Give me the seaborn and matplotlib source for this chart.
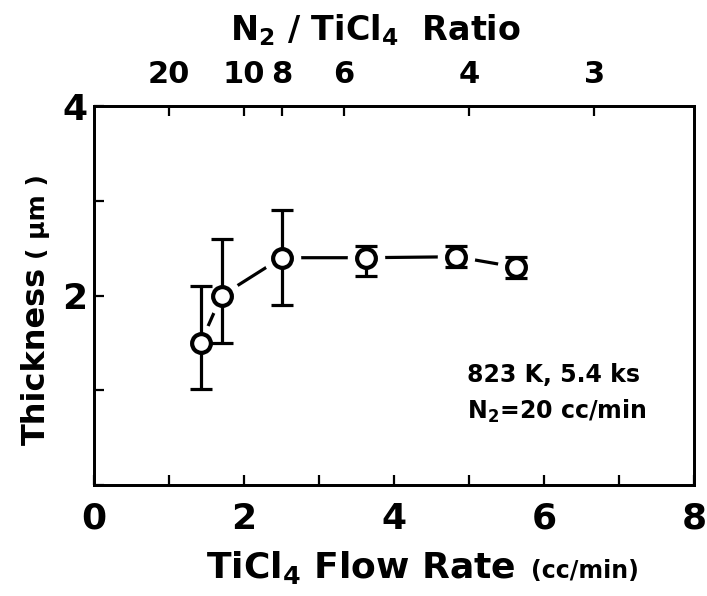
import matplotlib
matplotlib.use("Agg")
import matplotlib.pyplot as plt
import seaborn as sns
import pandas as pd

# ---------------- data ----------------
flow_rate = [1.42, 1.70, 2.50, 3.62, 4.83, 5.63]      # TiCl4 flow rate (cc/min)
thickness = [1.50, 2.00, 2.40, 2.40, 2.41, 2.30]      # thickness (um)
err_low = [0.49, 0.50, 0.50, 0.19, 0.11, 0.11]
err_high = [0.60, 0.60, 0.50, 0.12, 0.11, 0.11]

x_ticks = [0, 1, 2, 3, 4, 5, 6, 7, 8]
x_ticklabels = ["0", "", "2", "", "4", "", "6", "", "8"]
y_ticks = [0, 1, 2, 3, 4]
y_ticklabels = ["", "", "2", "", "4"]
ratios = [20, 10, 8, 6, 4, 3]                          # N2 / TiCl4 ratio
n2_flow = 20                                           # cc/min

df = pd.DataFrame({"flow": flow_rate, "thick": thickness})

# ---------------- style ----------------
sns.set_style("ticks")
plt.rcParams["font.family"] = ["DejaVu Sans"]
plt.rcParams["font.weight"] = "bold"
plt.rcParams["mathtext.default"] = "regular"
plt.rcParams["text.color"] = "black"
plt.rcParams["xtick.color"] = "black"
plt.rcParams["ytick.color"] = "black"
plt.rcParams["axes.labelcolor"] = "black"
plt.rcParams["axes.linewidth"] = 2.0
plt.rcParams["axes.edgecolor"] = "black"

fig = plt.figure(figsize=(7.07, 5.96), dpi=100)
ax = fig.add_axes([0.133, 0.186, 0.849, 0.636])

# connecting line
sns.lineplot(data=df, x="flow", y="thick", sort=False, color="black",
             linewidth=2.3, ax=ax, zorder=2, legend=False)
# white halo around the markers (gaps in the line)
sns.scatterplot(data=df, x="flow", y="thick", s=27 ** 2, color="white",
                linewidth=0, ax=ax, zorder=3, legend=False)
# error bars
ax.errorbar(df["flow"], df["thick"], yerr=[err_low, err_high], fmt="none",
            ecolor="black", elinewidth=2.3, capsize=8, capthick=2.3, zorder=4)
# open circle markers
sns.scatterplot(data=df, x="flow", y="thick", s=13.5 ** 2, facecolor="white",
                edgecolor="black", linewidth=3.0, ax=ax, zorder=5, legend=False)

ax.set_xlim(0, 8)
ax.set_ylim(0, 4)
ax.set_xticks(x_ticks)
ax.set_xticklabels(x_ticklabels)
ax.set_yticks(y_ticks)
ax.set_yticklabels(y_ticklabels)
ax.set_xlabel("")
ax.set_ylabel("")
for s in ax.spines.values():
    s.set_visible(True)
    s.set_linewidth(2.0)
ax.tick_params(axis="both", direction="in", length=7, width=1.6, labelsize=26)
ax.tick_params(axis="x", pad=12)
ax.tick_params(axis="y", pad=5)

# top axis: N2 / TiCl4 ratio
ax2 = ax.twiny()
ax2.set_xlim(ax.get_xlim())
ax2.set_xticks([n2_flow / r for r in ratios])
ax2.set_xticklabels([str(r) for r in ratios])
ax2.tick_params(axis="x", direction="in", length=7, width=1.6, labelsize=22, pad=12)
ax2.set_xlabel(r"N$_{2}$ / TiCl$_{4}$  Ratio", fontsize=24, fontweight="bold")
ax2.xaxis.set_label_coords((375 - 94) / 600, 1.0 + (106 - 40) / 379)

# annotation
ax.text(4.97, 0.96, "823 K, 5.4 ks\n" + r"N$_{2}$=20 cc/min",
        fontsize=17, ha="left", va="center", linespacing=1.5, zorder=6)

# bottom x label: big part + smaller units
fig.canvas.draw()
r = fig.canvas.get_renderer()
W, H = fig.get_size_inches() * fig.dpi
t1 = fig.text(206 / W, 1 - 578 / H, r"TiCl$_{4}$ Flow Rate", fontsize=26,
              ha="left", va="baseline")
bb = t1.get_window_extent(r)
fig.text((bb.x1 + 16) / W, 1 - 578 / H, "(cc/min)", fontsize=17, ha="left", va="baseline")

# left y label: big part + smaller units (rotated)
t3 = fig.text(45 / W, 1 - 445 / H, "Thickness", fontsize=23, rotation=90,
              rotation_mode="anchor", ha="left", va="baseline")
bb3 = t3.get_window_extent(r)
fig.text(45 / W, (bb3.y1 + 8) / H, "( \u03bcm )", fontsize=18, rotation=90,
         rotation_mode="anchor", ha="left", va="baseline")

fig.savefig("out.png", dpi=100)
